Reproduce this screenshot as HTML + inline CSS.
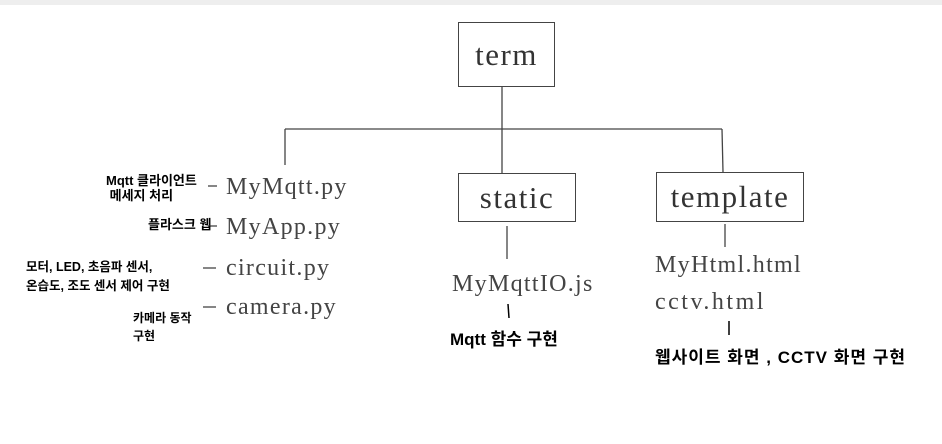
<!DOCTYPE html>
<html><head><meta charset="utf-8"><style>
body{margin:0;width:942px;height:444px;background:#fff;position:relative;overflow:hidden;font-family:"Liberation Serif",serif;}
.t{position:absolute;color:#444;font-size:24px;letter-spacing:1.3px;white-space:nowrap;line-height:1}
.h{position:absolute;color:#000;font-family:"Liberation Sans","Noto Sans CJK KR",sans-serif;font-weight:bold;white-space:nowrap;line-height:1.15}
.box{position:absolute;border:1.5px solid #444;box-sizing:border-box;display:flex;align-items:center;justify-content:center;font-size:31px;letter-spacing:1.5px;color:#333}
</style></head><body>
<div style="position:absolute;left:0;top:0;width:942px;height:5px;background:#eee"></div>
<svg width="942" height="444" style="position:absolute;left:0;top:0">
<g stroke="#444" stroke-width="1.3" fill="none">
<line x1="502" y1="86" x2="502" y2="173"/>
<line x1="285" y1="129" x2="722" y2="129"/>
<line x1="285" y1="129" x2="285" y2="165"/>
<line x1="722" y1="129" x2="723" y2="172"/>
<line x1="507" y1="226" x2="507" y2="259"/>
<line x1="725" y1="224" x2="725" y2="247"/>
<line x1="208" y1="186" x2="217" y2="186"/>
<line x1="208" y1="226" x2="217" y2="226"/>
<line x1="203" y1="268" x2="216" y2="268"/>
<line x1="203" y1="307" x2="216" y2="307"/>
</g>
<g stroke="#000" stroke-width="1.5"><line x1="508" y1="304" x2="509" y2="318"/><line x1="729" y1="321" x2="729" y2="335"/></g>
</svg>
<div class="box" style="left:458px;top:22px;width:97px;height:65px">term</div>
<div class="box" style="left:458px;top:173px;width:118px;height:49px">static</div>
<div class="box" style="left:656px;top:172px;width:148px;height:50px">template</div>
<div class="t" style="left:226px;top:175px">MyMqtt.py</div>
<div class="t" style="left:226px;top:215px">MyApp.py</div>
<div class="t" style="left:226px;top:256px">circuit.py</div>
<div class="t" style="left:226px;top:295px">camera.py</div>
<div class="t" style="left:452px;top:272px">MyMqttIO.js</div>
<div class="t" style="left:655px;top:253px">MyHtml.html</div>
<div class="t" style="left:655px;top:290px;letter-spacing:2.5px">cctv.html</div>
<div class="h" style="left:106px;top:174px;font-size:13px">Mqtt 클라이언트<br>&nbsp;메세지 처리</div>
<div class="h" style="left:148px;top:218px;font-size:13px">플라스크 웹</div>
<div class="h" style="left:26px;top:258px;font-size:12.5px;line-height:1.5">모터, LED, 초음파 센서,<br>온습도, 조도 센서 제어 구현</div>
<div class="h" style="left:133px;top:309px;font-size:12px;line-height:1.5">카메라 동작<br>구현</div>
<div class="h" style="left:450px;top:330px;font-size:17px">Mqtt 함수 구현</div>
<div class="h" style="left:655px;top:348px;font-size:17px;letter-spacing:1px">웹사이트 화면 , CCTV 화면 구현</div>
</body></html>
